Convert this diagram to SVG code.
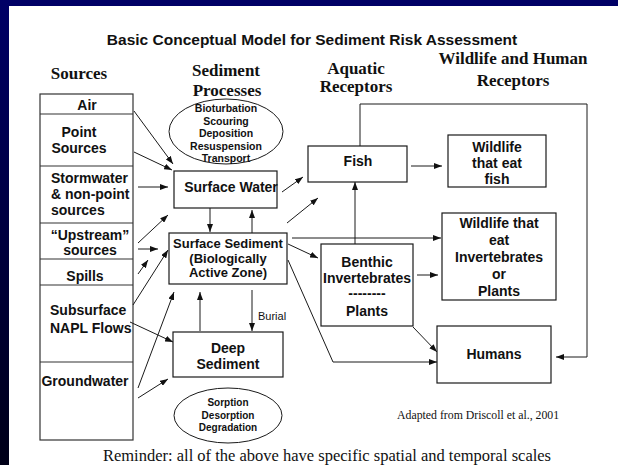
<svg xmlns="http://www.w3.org/2000/svg" width="618" height="465" viewBox="0 0 618 465">
<defs>
<linearGradient id="side" x1="0" y1="0" x2="0" y2="1">
<stop offset="0" stop-color="#000066"/>
<stop offset="1" stop-color="#000018"/>
</linearGradient>
<marker id="ah" markerUnits="userSpaceOnUse" markerWidth="8" markerHeight="6" refX="8" refY="3" orient="auto">
<path d="M0,0 L8,3 L0,6 z" fill="#111"/>
</marker>
<style>
.box{fill:#fff;stroke:#1a1a1a;stroke-width:1.2}
.src{fill:none;stroke:#333;stroke-width:1.2}
.ell{fill:#fff;stroke:#1a1a1a;stroke-width:1}
.c{fill:none;stroke:#1a1a1a;stroke-width:1}
.a{marker-end:url(#ah)}
.t{font-family:"Liberation Sans",Arial,sans-serif;font-weight:bold;fill:#111}
.m{text-anchor:middle}
.h{font-family:"Liberation Serif","Times New Roman",serif;font-weight:bold;font-size:17px;fill:#111;text-anchor:middle}
.s14{font-size:14px}
.s13{font-size:13px}
.s10{font-size:10.5px}
</style>
</defs>
<rect width="618" height="465" fill="#fff"/>
<rect x="0" y="0" width="618" height="6" fill="#000066"/>
<rect x="0" y="0" width="9" height="465" fill="url(#side)"/>

<text class="t m" x="312" y="45" font-size="15.5">Basic Conceptual Model for Sediment Risk Assessment</text>

<g id="headings">
<text class="h" x="79" y="79">Sources</text>
<text class="h" x="226" y="76">Sediment</text>
<text class="h" x="227" y="96">Processes</text>
<text class="h" x="356" y="74">Aquatic</text>
<text class="h" x="356" y="92">Receptors</text>
<text class="h" x="513" y="64">Wildlife and Human</text>
<text class="h" x="513" y="86">Receptors</text>
</g>

<g id="sources">
<rect class="src" x="40" y="94" width="93" height="346"/>
<path class="src" d="M40,114H133M40,166H133M40,223H133M40,259H133M40,285H133M40,362H133"/>
<g id="src-air"><text class="t m s14" x="87" y="110">Air</text></g>
<g id="src-point"><text class="t m s14" x="79" y="137">Point</text><text class="t m s14" x="79" y="153">Sources</text></g>
<g id="src-storm"><text class="t s14" x="51" y="183">Stormwater</text><text class="t s14" x="51" y="199">&amp; non-point</text><text class="t s14" x="51" y="215">sources</text></g>
<g id="src-upstream"><text class="t m s14" x="90" y="240">“Upstream”</text><text class="t m s14" x="90" y="255">sources</text></g>
<g id="src-spills"><text class="t m s14" x="85" y="281">Spills</text></g>
<g id="src-napl"><text class="t s14" x="50" y="315">Subsurface</text><text class="t s14" x="50" y="333">NAPL Flows</text></g>
<g id="src-gw"><text class="t m s14" x="85" y="386">Groundwater</text></g>
</g>

<g id="connectors">
<line class="c a" x1="134" y1="111" x2="173" y2="164"/>
<line class="c a" x1="134" y1="152" x2="172" y2="170"/>
<line class="c a" x1="138" y1="187" x2="168" y2="187"/>
<line class="c a" x1="138" y1="243" x2="168" y2="215"/>
<line class="c a" x1="138" y1="249" x2="158" y2="249"/>
<line class="c a" x1="138" y1="274" x2="148" y2="260"/>
<line class="c a" x1="133" y1="305" x2="168" y2="250"/>
<line class="c a" x1="130" y1="322" x2="173" y2="342"/>
<line class="c a" x1="138" y1="398" x2="168" y2="379"/>
<line class="c a" x1="138" y1="388" x2="174" y2="292"/>
<line class="c a" x1="210" y1="208" x2="210" y2="232"/>
<line class="c a" x1="252" y1="233" x2="252" y2="210"/>
<line class="c a" x1="200" y1="331" x2="200" y2="292"/>
<line class="c a" x1="252" y1="290" x2="252" y2="331"/>
<line class="c a" x1="282" y1="192" x2="303" y2="177"/>
<line class="c a" x1="287" y1="223" x2="318" y2="198"/>
<line class="c a" x1="292" y1="238" x2="441" y2="238"/>
<line class="c a" x1="288" y1="244" x2="318" y2="258"/>
<line class="c a" x1="355" y1="244" x2="355" y2="182"/>
<line class="c a" x1="411" y1="166" x2="442" y2="166"/>
<line class="c a" x1="417" y1="275" x2="438" y2="275"/>
<polyline class="c a" points="288,260 333,362 437,362"/>
<line class="c a" x1="413" y1="327" x2="437" y2="352"/>
<polyline class="c a" points="360,146 360,104 587,104 587,357 556,357"/>
</g>

<g id="processes-top">
<ellipse class="ell" cx="226" cy="131.5" rx="57" ry="32.5"/>
<text class="t m s10" x="226" y="112">Bioturbation</text>
<text class="t m s10" x="226" y="125">Scouring</text>
<text class="t m s10" x="226" y="137">Deposition</text>
<text class="t m s10" x="226" y="150">Resuspension</text>
<text class="t m s10" x="226" y="162">Transport</text>
</g>

<g id="surface-water">
<rect class="box" x="174" y="171" width="103" height="37"/>
<text class="t m s14" x="231" y="192">Surface Water</text>
</g>

<g id="surface-sediment">
<rect class="box" x="169" y="233" width="118" height="51"/>
<text class="t m s13" x="228" y="248">Surface Sediment</text>
<text class="t m s13" x="228" y="263">(Biologically</text>
<text class="t m s13" x="228" y="277">Active Zone)</text>
</g>

<text x="258" y="320" font-family="Liberation Sans,Arial,sans-serif" font-size="11" fill="#111">Burial</text>

<g id="deep-sediment">
<rect class="box" x="173" y="332" width="110" height="45"/>
<text class="t m s14" x="228" y="353">Deep</text>
<text class="t m s14" x="228" y="369">Sediment</text>
</g>

<g id="processes-bottom">
<ellipse class="ell" cx="228" cy="415.5" rx="54" ry="27.5"/>
<text class="t m" font-size="10" x="228" y="406">Sorption</text>
<text class="t m" font-size="10" x="228" y="419">Desorption</text>
<text class="t m" font-size="10" x="228" y="431">Degradation</text>
</g>

<g id="fish">
<rect class="box" x="308" y="146" width="99" height="36"/>
<text class="t m s14" x="358" y="166">Fish</text>
</g>

<g id="benthic">
<rect class="box" x="321" y="244" width="92" height="82"/>
<text class="t m s14" x="367" y="267">Benthic</text>
<text class="t m s14" x="367" y="283">Invertebrates</text>
<text class="t m s14" x="367" y="298">--------</text>
<text class="t m s14" x="367" y="316">Plants</text>
</g>

<g id="wildlife-fish">
<rect class="box" x="448" y="135" width="98" height="52"/>
<text class="t m s14" x="497" y="152">Wildlife</text>
<text class="t m s14" x="497" y="168">that eat</text>
<text class="t m s14" x="497" y="184">fish</text>
</g>

<g id="wildlife-inv">
<rect class="box" x="442" y="213" width="114" height="87"/>
<text class="t m s14" x="499" y="228">Wildlife that</text>
<text class="t m s14" x="499" y="245">eat</text>
<text class="t m s14" x="499" y="262">Invertebrates</text>
<text class="t m s14" x="499" y="279">or</text>
<text class="t m s14" x="499" y="296">Plants</text>
</g>

<g id="humans">
<rect class="box" x="437" y="326" width="114" height="57"/>
<text class="t m s14" x="494" y="359">Humans</text>
</g>

<text x="397" y="419" font-family="Liberation Serif,Times New Roman,serif" font-size="11.8" fill="#111">Adapted from Driscoll et al., 2001</text>
<text x="327" y="461" text-anchor="middle" font-family="Liberation Serif,Times New Roman,serif" font-size="16.5" fill="#111">Reminder: all of the above have specific spatial and temporal scales</text>
</svg>
